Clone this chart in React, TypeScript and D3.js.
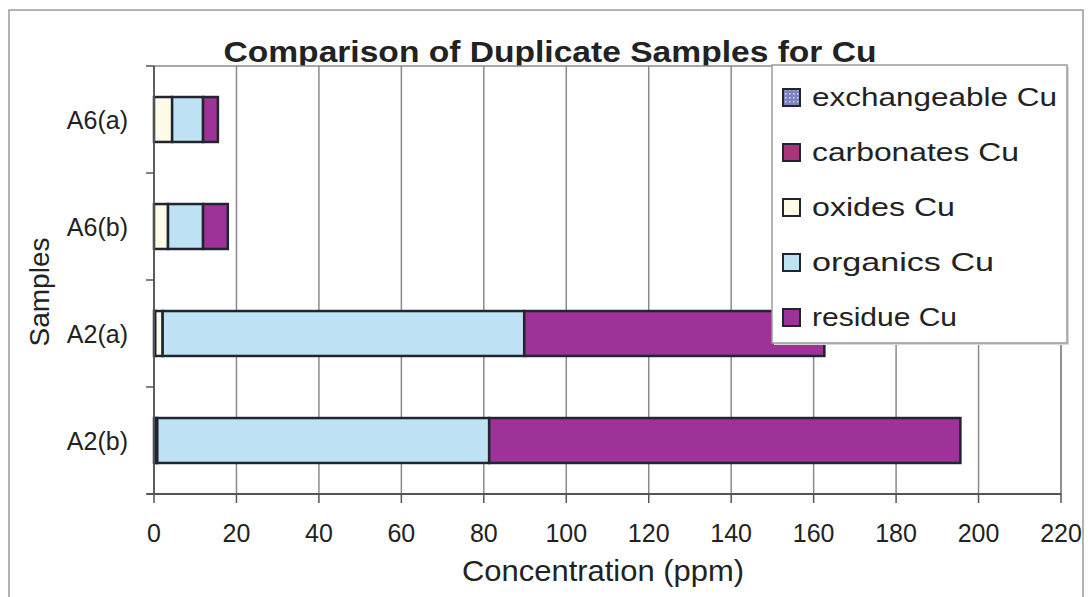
import React from "react";
import * as d3 from "d3";

const samples = ["A6(a)", "A6(b)", "A2(a)", "A2(b)"];
const seriesNames = ["exchangeable Cu", "carbonates Cu", "oxides Cu", "organics Cu", "residue Cu"];
const exchangeable = [0, 0, 0.3, 0.3];
const carbonates = [0, 0, 0, 0];
const oxides = [4.4, 3.4, 1.8, 0.5];
const organics = [7.5, 8.5, 87.7, 80.5];
const residue = [3.6, 6.0, 72.8, 114.3];
const xTicks = [0, 20, 40, 60, 80, 100, 120, 140, 160, 180, 200, 220];
const colors = ["url(#exchPattern)", "#a8347c", "#fdfbe8", "#bfe2f5", "#9e3299"];

const W = 1088;
const H = 597;
const plot = { left: 154, right: 1061, top: 66, bottom: 494 };
const FONT = "'Liberation Sans', Arial, sans-serif";

export default function App() {
  const seriesValues = [exchangeable, carbonates, oxides, organics, residue];
  const rows = samples.map((s, i) => {
    const r: any = { sample: s };
    seriesNames.forEach((n, k) => (r[n] = seriesValues[k][i]));
    return r;
  });
  const stacked = d3.stack<any>().keys(seriesNames)(rows);

  const x = d3.scaleLinear().domain([0, 220]).range([plot.left, plot.right]);
  const y = d3
    .scaleBand<string>()
    .domain(samples)
    .range([plot.top, plot.bottom])
    .paddingInner(0.58)
    .paddingOuter(0.29);
  const step = y.step();
  const boundaries = d3.range(samples.length + 1).map((i) => plot.top + i * step);

  const legend = { x: 772, y: 65, w: 295, h: 278 };
  const legendRowY = (i: number) => 97 + i * 55;

  return (
    <svg
      width={W}
      height={H}
      style={{ position: "absolute", left: 0, top: 0, background: "#fff" }}
      fontFamily={FONT}
    >
      <defs>
        <pattern id="exchPattern" width={4} height={4} patternUnits="userSpaceOnUse">
          <rect width={4} height={4} fill="#7f82c0" />
          <rect x={1} y={1} width={1.5} height={1.5} fill="#d6d8f2" />
        </pattern>
      </defs>
      <rect x={0} y={0} width={W} height={H} fill="#fff" />
      {/* outer frame */}
      <rect x={9} y={10} width={1074} height={600} fill="none" stroke="#9a9a9a" strokeWidth={1.5} />

      {/* title */}
      <text
        x={550}
        y={62}
        textAnchor="middle"
        fontSize={30}
        fontWeight="bold"
        fill="#222"
        textLength={653}
        lengthAdjust="spacingAndGlyphs"
      >
        Comparison of Duplicate Samples for Cu
      </text>

      {/* plot area border */}
      <rect
        x={plot.left}
        y={plot.top}
        width={plot.right - plot.left}
        height={plot.bottom - plot.top}
        fill="#fff"
        stroke="#8a8a8a"
        strokeWidth={1.5}
      />
      {/* grid lines */}
      {xTicks.slice(1).map((t) => (
        <line key={t} x1={x(t)} x2={x(t)} y1={plot.top} y2={plot.bottom} stroke="#8a8a8a" strokeWidth={1.5} />
      ))}

      {/* bars */}
      {stacked.map((layer, k) => (
        <g key={layer.key}>
          {layer.map((d, i) => {
            const w = x(d[1]) - x(d[0]);
            if (w <= 0) return null;
            return (
              <rect
                key={i}
                x={x(d[0])}
                y={y(samples[i])}
                width={w}
                height={y.bandwidth()}
                fill={colors[k]}
                stroke="#1f2630"
                strokeWidth={2.5}
              />
            );
          })}
        </g>
      ))}

      {/* axes */}
      <line x1={plot.left} x2={plot.left} y1={plot.top} y2={plot.bottom} stroke="#555" strokeWidth={1.8} />
      <line x1={plot.left - 7} x2={plot.right} y1={plot.bottom} y2={plot.bottom} stroke="#555" strokeWidth={1.8} />
      {boundaries.map((b, i) => (
        <line key={i} x1={plot.left - 8} x2={plot.left} y1={b} y2={b} stroke="#555" strokeWidth={1.5} />
      ))}
      {xTicks.map((t) => (
        <g key={t}>
          <line x1={x(t)} x2={x(t)} y1={plot.bottom} y2={plot.bottom + 9} stroke="#555" strokeWidth={1.5} />
          <text x={x(t)} y={542} textAnchor="middle" fontSize={25} fill="#222">
            {t}
          </text>
        </g>
      ))}
      {samples.map((s) => (
        <text key={s} x={128} y={(y(s) as number) + y.bandwidth() / 2 + 9} textAnchor="end" fontSize={25} fill="#222">
          {s}
        </text>
      ))}

      {/* axis titles */}
      <text
        x={603}
        y={581}
        textAnchor="middle"
        fontSize={29}
        fill="#222"
        textLength={282}
        lengthAdjust="spacingAndGlyphs"
      >
        Concentration (ppm)
      </text>
      <text transform="translate(49,292) rotate(-90)" textAnchor="middle" fontSize={28} fill="#222">
        Samples
      </text>

      {/* legend */}
      <rect x={legend.x + 2} y={legend.y + 2} width={legend.w} height={legend.h} fill="#d8d8d8" />
      <rect x={legend.x} y={legend.y} width={legend.w} height={legend.h} fill="#fff" stroke="#9a9a9a" strokeWidth={1.5} />
      {seriesNames.map((n, i) => {
        const cy = legendRowY(i);
        const textW = [245, 207, 143, 182, 145][i];
        return (
          <g key={n}>
            <rect x={783} y={cy - 8} width={17} height={17} fill={colors[i]} stroke="#1f2630" strokeWidth={2} />
            <text
              x={812}
              y={cy + 9}
              fontSize={25}
              fill="#222"
              textLength={textW}
              lengthAdjust="spacingAndGlyphs"
            >
              {n}
            </text>
          </g>
        );
      })}
    </svg>
  );
}
